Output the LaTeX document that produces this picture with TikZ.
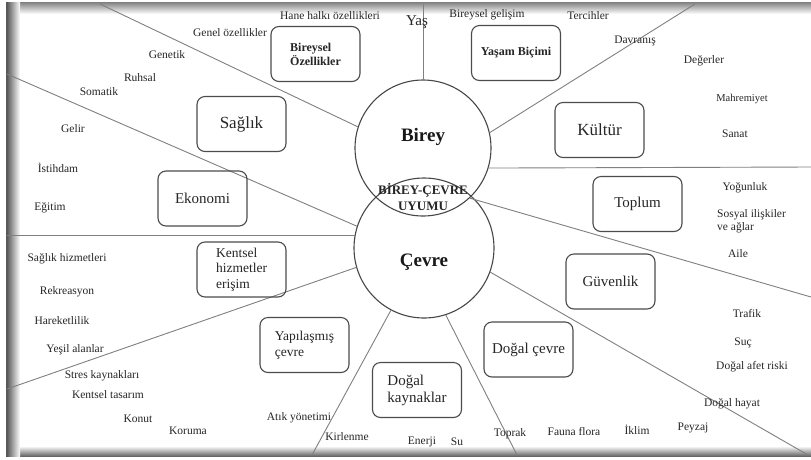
\documentclass[tikz,border=0pt]{standalone}
\usepackage{fontspec}
\setmainfont{Liberation Serif}
\begin{document}
\begin{tikzpicture}[x=1pt,y=-1pt,
  ring/.style={circle, draw=black!72, line width=1.1pt, inner sep=0pt},
  spoke/.style={draw=black!50, line width=0.9pt},
  topic/.style={draw=black!70, line width=1.1pt, rounded corners=8pt,
    minimum width=89pt, minimum height=55pt, inner sep=2pt, text=black!85, align=left},
  big/.style={topic, font=\fontsize{17}{20}\selectfont},
  mid/.style={topic, font=\fontsize{15}{17}\selectfont},
  small/.style={topic, font=\fontsize{13.5}{15.5}\selectfont},
  tag/.style={topic, font=\bfseries\fontsize{12}{14}\selectfont},
  lbl/.style={font=\fontsize{11.5}{13}\selectfont, text=black!85, inner sep=0pt},
  hubtext/.style={font=\bfseries\fontsize{19}{22}\selectfont, text=black!90},
  meet/.style={font=\bfseries\fontsize{13}{15}\selectfont, text=black!85, inner sep=0pt}]

\useasboundingbox (0,0) rectangle (811,459);
\fill[white] (0,0) rectangle (811,459);

% soft frame around the sheet
\shade[top color=black!50, bottom color=white] (6,2) rectangle (811,14);
\shade[top color=white, bottom color=black!60] (6,446) rectangle (811,456);
\shade[left color=black!70, right color=white] (6,2) rectangle (20,456);
\draw[black!65, line width=1pt] (6.5,2) -- (6.5,456);

% the two overlapping circles
\node[ring, minimum size=136pt] (birey) at (423,148) {};
\node[ring, minimum size=140pt] (cevre) at (424,248) {};

% free ends of the dividing lines
\coordinate (eTop)   at (423,4);
\coordinate (eTR)    at (695,4);
\coordinate (eTL)    at (100,4);
\coordinate (eL1)    at (7,74);
\coordinate (eL2)    at (7,236);
\coordinate (eL3)    at (7,389);
\coordinate (eB1)    at (312,455);
\coordinate (eB2)    at (517,455);
\coordinate (eBR)    at (808,455);
\coordinate (eR1)    at (811,297);
\coordinate (eR2)    at (811,167);

\draw[spoke] (birey.north) -- (eTop);
\draw[spoke] (birey.13) -- (eTR);
\draw[spoke] (birey.162) -- (eTL);
\draw[spoke] (cevre.162) -- (eL1);
\draw[spoke] (cevre.170) -- (cevre.170 -| eL2);
\draw[spoke] (cevre.196) -- (eL3);
\draw[spoke] (cevre.242) -- (eB1);
\draw[spoke] (cevre.288) -- (eB2);
\draw[spoke] (cevre.-20) -- (eBR);
\draw[spoke] (birey.-47) -- (eR1);
\draw[spoke] (birey.-17) -- (eR2);

% circle titles
\node[hubtext] (tBirey) at (423,137) {Birey};
\node[hubtext] (tCevre) at (424,262) {Çevre};
\node[meet] (tMeet1) at (423,190) {BİREY-ÇEVRE};
\node[meet] (tMeet2) at (423,206) {UYUMU};

% topic boxes
\node[tag]   (bireysel) at (315.5,54)  {Bireysel\\Özellikler};
\node[tag]   (yasam)    at (516,53)    {Yaşam Biçimi};
\node[big]   (saglik)   at (241.5,124) {Sağlık};
\node[big]   (kultur)   at (599.5,130) {Kültür};
\node[mid]   (ekonomi)  at (202.5,198.5) {Ekonomi};
\node[mid]   (toplum)   at (637.5,204) {Toplum};
\node[small] (kentsel)  at (241.5,269.5) {Kentsel\\hizmetler\\erişim};
\node[mid]   (guvenlik) at (610.5,281.5) {Güvenlik};
\node[small] (yapi)     at (304.5,345) {Yapılaşmış\\çevre};
\node[mid]   (dcevre)   at (528.5,349.5) {Doğal çevre};
\node[mid]   (dkay)     at (417,390)   {Doğal\\kaynaklar};

% item labels
\node[lbl] (l1)  at (330,16)  {Hane halkı özellikleri};
\node[lbl, font=\fontsize{15}{17}\selectfont] (l2) at (417,22) {Yaş};
\node[lbl] (l3)  at (487,15)  {Bireysel gelişim};
\node[lbl] (l4)  at (588,16)  {Tercihler};
\node[lbl] (l5)  at (635,41)  {Davranış};
\node[lbl] (l6)  at (704,61)  {Değerler};
\node[lbl, font=\fontsize{10.5}{12}\selectfont] (l7) at (742,99) {Mahremiyet};
\node[lbl] (l8)  at (735,134) {Sanat};
\node[lbl] (l9)  at (230,33)  {Genel özellikler};
\node[lbl] (l10) at (167,55)  {Genetik};
\node[lbl] (l11) at (140,78)  {Ruhsal};
\node[lbl] (l12) at (99,92)   {Somatik};
\node[lbl] (l13) at (73,129)  {Gelir};
\node[lbl] (l14) at (58,168)  {İstihdam};
\node[lbl] (l15) at (50,208)  {Eğitim};
\node[lbl] (l16) at (67,259)  {Sağlık hizmetleri};
\node[lbl] (l17) at (67,292)  {Rekreasyon};
\node[lbl] (l18) at (62,321)  {Hareketlilik};
\node[lbl] (l19) at (75,350)  {Yeşil alanlar};
\node[lbl] (l20) at (102,376) {Stres kaynakları};
\node[lbl] (l21) at (108,395) {Kentsel tasarım};
\node[lbl] (l22) at (138,419) {Konut};
\node[lbl] (l23) at (188,431) {Koruma};
\node[lbl] (l24) at (299,418) {Atık yönetimi};
\node[lbl] (l25) at (347,437) {Kirlenme};
\node[lbl] (l26) at (422,442) {Enerji};
\node[lbl] (l27) at (457,442) {Su};
\node[lbl] (l28) at (510,434) {Toprak};
\node[lbl] (l29) at (574,431) {Fauna flora};
\node[lbl] (l30) at (637,430) {İklim};
\node[lbl] (l31) at (693,428) {Peyzaj};
\node[lbl] (l32) at (732,404) {Doğal hayat};
\node[lbl] (l33) at (752,367) {Doğal afet riski};
\node[lbl] (l34) at (743,343) {Suç};
\node[lbl] (l35) at (747,313) {Trafik};
\node[lbl] (l36) at (745,188) {Yoğunluk};
\node[lbl, align=left, anchor=north west] (l37) at (717,209) {Sosyal ilişkiler\\ve ağlar};
\node[lbl] (l38) at (738,254) {Aile};
\end{tikzpicture}
\end{document}
